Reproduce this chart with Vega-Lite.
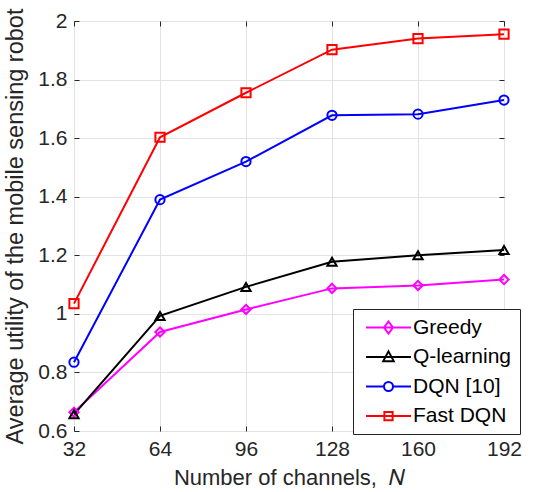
{
  "$schema": "https://vega.github.io/schema/vega-lite/v6.json",
  "autosize": "none",
  "width": 430,
  "height": 410,
  "padding": {"left": 74, "top": 21, "right": 39, "bottom": 61},
  "background": "white",
  "config": {
    "font": "Liberation Sans",
    "view": {"stroke": "#262626", "strokeWidth": 1},
    "axis": {
      "labelFont": "Liberation Sans",
      "titleFont": "Liberation Sans",
      "labelFontSize": 21,
      "labelColor": "#262626",
      "titleColor": "#262626",
      "titleFontWeight": "normal",
      "gridColor": "#e3e3e3",
      "gridWidth": 1,
      "domain": false,
      "tickColor": "#262626",
      "tickSize": -5,
      "tickWidth": 1
    }
  },
  "data": {
    "values": [
      {"N": 32, "series": "Greedy", "utility": 0.664},
      {"N": 64, "series": "Greedy", "utility": 0.938},
      {"N": 96, "series": "Greedy", "utility": 1.015},
      {"N": 128, "series": "Greedy", "utility": 1.087},
      {"N": 160, "series": "Greedy", "utility": 1.097},
      {"N": 192, "series": "Greedy", "utility": 1.117},
      {"N": 32, "series": "Q-learning", "utility": 0.657},
      {"N": 64, "series": "Q-learning", "utility": 0.993},
      {"N": 96, "series": "Q-learning", "utility": 1.092},
      {"N": 128, "series": "Q-learning", "utility": 1.178},
      {"N": 160, "series": "Q-learning", "utility": 1.2},
      {"N": 192, "series": "Q-learning", "utility": 1.218},
      {"N": 32, "series": "DQN [10]", "utility": 0.835},
      {"N": 64, "series": "DQN [10]", "utility": 1.39},
      {"N": 96, "series": "DQN [10]", "utility": 1.52},
      {"N": 128, "series": "DQN [10]", "utility": 1.678},
      {"N": 160, "series": "DQN [10]", "utility": 1.682},
      {"N": 192, "series": "DQN [10]", "utility": 1.73},
      {"N": 32, "series": "Fast DQN", "utility": 1.035},
      {"N": 64, "series": "Fast DQN", "utility": 1.603},
      {"N": 96, "series": "Fast DQN", "utility": 1.755},
      {"N": 128, "series": "Fast DQN", "utility": 1.902},
      {"N": 160, "series": "Fast DQN", "utility": 1.94},
      {"N": 192, "series": "Fast DQN", "utility": 1.955}
    ]
  },
  "layer": [
    {
      "mark": {"type": "line", "strokeWidth": 2},
      "encoding": {
        "x": {
          "field": "N",
          "type": "quantitative",
          "scale": {"domain": [32, 192], "nice": false, "zero": false},
          "axis": {"values": [32, 64, 96, 128, 160, 192], "title": "Number of channels,\u00a0\u00a0𝑁", "titleFontSize": 22, "labelPadding": 12, "titlePadding": 8, "labelFlush": false}
        },
        "y": {
          "field": "utility",
          "type": "quantitative",
          "scale": {"domain": [0.6, 2], "nice": false, "zero": false},
          "axis": {"values": [0.6, 0.8, 1, 1.2, 1.4, 1.6, 1.8, 2], "format": "~g", "title": "Average utility of the mobile sensing robot", "titleFontSize": 23.5, "labelPadding": 12, "titlePadding": 10, "labelFlush": false}
        },
        "color": {"field": "series", "type": "nominal", "legend": null,
          "scale": {"domain": ["Greedy", "Q-learning", "DQN [10]", "Fast DQN"], "range": ["#ff00ff", "#000000", "#0000ff", "#ff0000"]}}
      }
    },
    {
      "mark": {"type": "point", "filled": false, "strokeWidth": 2, "size": 85, "opacity": 1},
      "encoding": {
        "x": {"field": "N", "type": "quantitative", "axis": null},
        "y": {"field": "utility", "type": "quantitative", "axis": null},
        "color": {"field": "series", "type": "nominal", "legend": null,
          "scale": {"domain": ["Greedy", "Q-learning", "DQN [10]", "Fast DQN"], "range": ["#ff00ff", "#000000", "#0000ff", "#ff0000"]}},
        "shape": {"field": "series", "type": "nominal", "legend": null,
          "scale": {"domain": ["Greedy", "Q-learning", "DQN [10]", "Fast DQN"], "range": ["diamond", "triangle-up", "circle", "square"]}}
      }
    },
    {
      "mark": {"type": "point", "filled": false, "strokeWidth": 2, "opacity": 0},
      "encoding": {
        "x": {"field": "N", "type": "quantitative",
          "axis": {"orient": "top", "values": [32, 64, 96, 128, 160, 192], "labels": false, "title": null, "grid": false}},
        "y": {"field": "utility", "type": "quantitative",
          "axis": {"orient": "right", "values": [0.6, 0.8, 1, 1.2, 1.4, 1.6, 1.8, 2], "labels": false, "title": null, "grid": false}},
        "color": {"field": "series", "type": "nominal",
          "scale": {"domain": ["Greedy", "Q-learning", "DQN [10]", "Fast DQN"], "range": ["#ff00ff", "#000000", "#0000ff", "#ff0000"]},
          "legend": {"title": null, "orient": "none", "legendX": 279, "legendY": 288, "padding": 8,
            "strokeColor": "#262626", "fillColor": "white", "labelFontSize": 21, "labelFont": "Liberation Sans", "labelColor": "#000000",
            "symbolSize": 225, "symbolStrokeWidth": 2, "symbolOpacity": 1, "symbolOffset": 17, "labelOffset": 14, "rowPadding": 7.5}},
        "shape": {"field": "series", "type": "nominal",
          "scale": {"domain": ["Greedy", "Q-learning", "DQN [10]", "Fast DQN"], "range": [
            "M-3,0H3M0,-0.8L0.6,0L0,0.8L-0.6,0Z",
            "M-3,0H3M0,-0.75L0.7,0.55L-0.7,0.55Z",
            "M-3,0H-0.6A0.6,0.6 0 1,1 0.6,0A0.6,0.6 0 1,1 -0.6,0M0.6,0H3",
            "M-3,0H3M-0.55,-0.55H0.55V0.55H-0.55Z"
          ]},
          "legend": {"title": null, "orient": "none", "legendX": 279, "legendY": 288, "padding": 8,
            "strokeColor": "#262626", "fillColor": "white", "labelFontSize": 21, "labelFont": "Liberation Sans", "labelColor": "#000000",
            "symbolSize": 225, "symbolStrokeWidth": 2, "symbolOpacity": 1, "symbolOffset": 17, "labelOffset": 14, "rowPadding": 7.5}}
      }
    }
  ],
  "resolve": {"scale": {"color": "independent", "shape": "independent"}, "axis": {"x": "independent", "y": "independent"}}
}
